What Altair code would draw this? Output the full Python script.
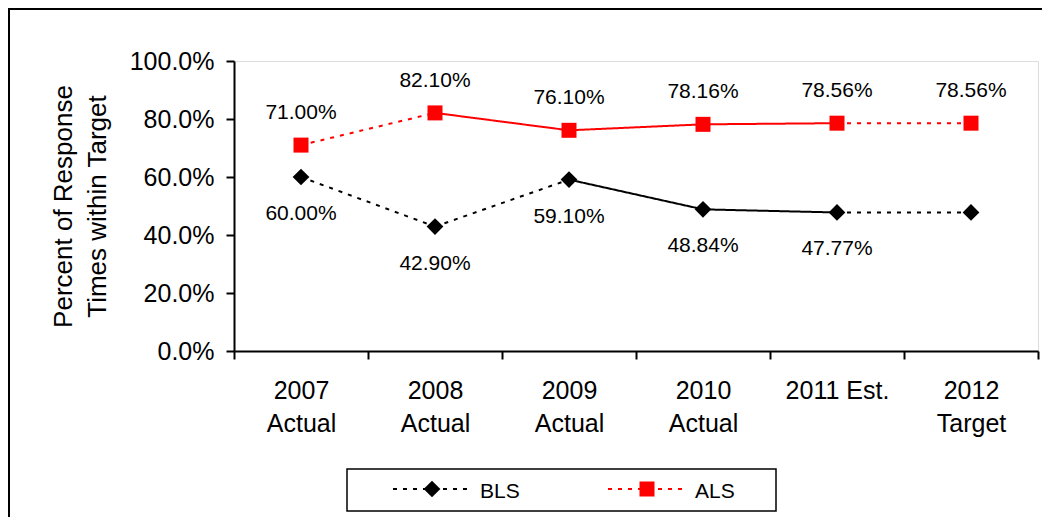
import altair as alt
import pandas as pd

# ---------------- data ----------------
categories = ["2007 Actual", "2008 Actual", "2009 Actual", "2010 Actual", "2011 Est.", "2012 Target"]
bls = [0.6000, 0.4290, 0.5910, 0.4884, 0.4777, 0.4777]
als = [0.7100, 0.8210, 0.7610, 0.7816, 0.7856, 0.7856]
bls_labels = ["60.00%", "42.90%", "59.10%", "48.84%", "47.77%", ""]
als_labels = ["71.00%", "82.10%", "76.10%", "78.16%", "78.56%", "78.56%"]
# line style of the segment from category i to category i+1
bls_seg_style = ["dotted", "dotted", "solid", "solid", "dotted"]
als_seg_style = ["dotted", "solid", "solid", "solid", "dotted"]
series_names = ["BLS", "ALS"]
series_colors = ["#000000", "#FF0000"]
series_shapes = ["diamond", "square"]
series_sizes = [280, 225]
y_ticks = [0, 0.2, 0.4, 0.6, 0.8, 1.0]

FONT = "Liberation Sans"
W, H = 804, 290
PAD = {"left": 226, "top": 53, "right": 4, "bottom": 166}

# ---------------- tables ----------------
pts_rows = []
seg_rows = []
for name, vals, labs, styles in [("BLS", bls, bls_labels, bls_seg_style),
                                 ("ALS", als, als_labels, als_seg_style)]:
    for c, v, l in zip(categories, vals, labs):
        pts_rows.append({"category": c, "value": v, "series": name, "label": l})
    for i, st in enumerate(styles):
        for j in (i, i + 1):
            seg_rows.append({"category": categories[j], "value": vals[j],
                             "series": name, "seg": f"{name}-{i}", "style": st})
pts = pd.DataFrame(pts_rows)
segs = pd.DataFrame(seg_rows)
one = pd.DataFrame({"k": [0]})

x_enc = alt.X(
    "category:N", sort=categories,
    scale=alt.Scale(domain=categories, paddingInner=0, paddingOuter=0),
    axis=alt.Axis(
        title=None, labelAngle=0, tickBand="extent", labelFont=FONT, labelFontSize=25,
        labelColor="black", labelPadding=19, labelLineHeight=33,
        labelExpr="isValid(datum.value) ? (datum.value == '2011 Est.' ? datum.value : split(datum.value, ' ')) : ''",
        domainColor="black", domainWidth=2, tickColor="black", tickWidth=2, tickSize=8,
        grid=False,
    ),
)
y_enc = alt.Y(
    "value:Q", scale=alt.Scale(domain=[0, 1], nice=False, zero=True),
    axis=alt.Axis(
        values=y_ticks, format=".1%", grid=False,
        labelFont=FONT, labelFontSize=25, labelColor="black", labelPadding=12,
        domainColor="black", domainWidth=2, tickColor="black", tickWidth=2, tickSize=8,
        title=["Percent of Response", "Times within Target"],
        titleFont=FONT, titleFontSize=26, titleFontWeight="normal", titleColor="black",
        titleLineHeight=34, titleAngle=270, titleAlign="center", titleBaseline="middle",
        titleX=-171, titleY=145,
    ),
)
color_enc = alt.Color("series:N", scale=alt.Scale(domain=series_names, range=series_colors), legend=None)

lines = alt.Chart(segs).mark_line(strokeWidth=2).encode(
    x=x_enc, y=y_enc, color=color_enc, detail="seg:N",
    strokeDash=alt.StrokeDash("style:N", scale=alt.Scale(domain=["solid", "dotted"], range=[[1, 0], [4, 6]]), legend=None),
)

points = alt.Chart(pts).mark_point(filled=True, opacity=1, strokeWidth=0).encode(
    x=x_enc, y=y_enc, color=color_enc,
    shape=alt.Shape("series:N", scale=alt.Scale(domain=series_names, range=series_shapes), legend=None),
    size=alt.Size("series:N", scale=alt.Scale(domain=series_names, range=series_sizes), legend=None),
)

als_text = alt.Chart(pts).transform_filter("datum.series == 'ALS'").mark_text(
    font=FONT, fontSize=21, color="black", baseline="alphabetic", dy=-26
).encode(x=x_enc, y=y_enc, text="label:N")

bls_text = alt.Chart(pts).transform_filter("datum.series == 'BLS'").mark_text(
    font=FONT, fontSize=21, color="black", baseline="alphabetic", dy=43
).encode(x=x_enc, y=y_enc, text="label:N")

# ---------------- decorations (frame + legend), pixel positions ----------------
frame_top = alt.Chart(one).mark_rule(color="black", strokeWidth=2).encode(
    x=alt.value(-226), x2=alt.value(W + PAD["right"]), y=alt.value(-52))
frame_left = alt.Chart(one).mark_rule(color="black", strokeWidth=2).encode(
    x=alt.value(-225), y=alt.value(-53), y2=alt.value(H + PAD["bottom"]))

legend_box = alt.Chart(one).mark_rect(fill="white", stroke="black", strokeWidth=1.5).encode(
    x=alt.value(113), x2=alt.value(542), y=alt.value(408), y2=alt.value(450))

legend_layers = [legend_box]
legend_x0 = [159, 374]
for name, col, shp, sz, x0 in zip(series_names, series_colors, series_shapes, series_sizes, legend_x0):
    legend_layers.append(alt.Chart(one).mark_rule(color=col, strokeWidth=2, strokeDash=[4, 6]).encode(
        x=alt.value(x0), x2=alt.value(x0 + 77), y=alt.value(428)))
    legend_layers.append(alt.Chart(one).mark_point(filled=True, opacity=1, strokeWidth=0, shape=shp,
                                                   size=sz, color=col).encode(
        x=alt.value(x0 + 39), y=alt.value(428)))
    legend_layers.append(alt.Chart(one).mark_text(font=FONT, fontSize=21, color="black", align="left",
                                                  baseline="alphabetic", text=name).encode(
        x=alt.value(x0 + 87), y=alt.value(437)))

chart = alt.layer(
    frame_top, frame_left, lines, points, als_text, bls_text, *legend_layers
).properties(
    width=W, height=H,
    autosize=alt.AutoSizeParams(type="none"),
    padding=PAD,
).configure_view(stroke=None).configure(background="white")

chart.save("out.html", embed_options={"renderer": "svg", "actions": False})
